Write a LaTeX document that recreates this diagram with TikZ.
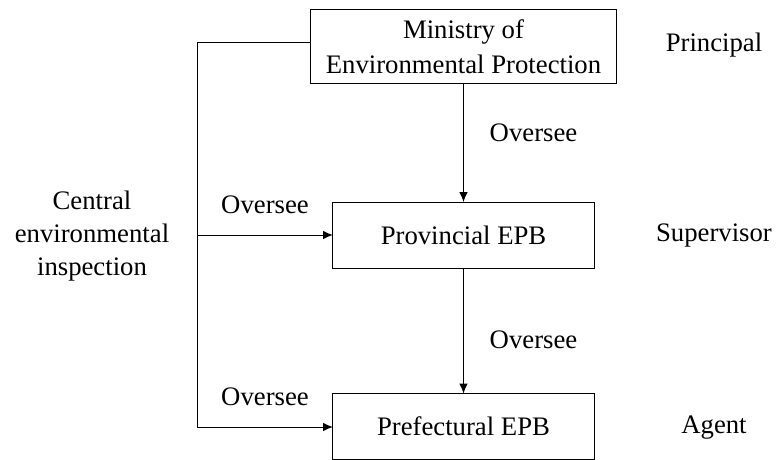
\documentclass[tikz,border=0pt]{standalone}
\usepackage{fontspec}
\setmainfont{Liberation Serif}
\usetikzlibrary{arrows.meta}

\begin{document}
\begin{tikzpicture}[x=0.025cm,y=-0.025cm,inner sep=0pt,outer sep=0pt,line width=0.7pt,
font=\fontsize{19}{25}\selectfont,
orgbox/.style={draw,rectangle,align=center,minimum width=6.525cm,minimum height=1.65cm,line width=0.7pt},
lbl/.style={align=center},
>={Latex[length=7pt,width=6pt]}]
\useasboundingbox (0,0) rectangle (776,460);

\draw (463.5,46.5) node[orgbox,minimum width=7.625cm,minimum height=1.825cm] (MEP) {Ministry of\\Environmental Protection};
\draw (463.5,235) node[orgbox] (ProvEPB) {Provincial EPB};
\draw (463.5,426.5) node[orgbox] (PrefEPB) {Prefectural EPB};

\draw (714,45) node[lbl] (principal) {Principal};
\draw (714,235) node[lbl] (supervisor) {Supervisor};
\draw (714,428) node[lbl] (agent) {Agent};
\draw (92,236) node[lbl,font=\fontsize{19}{23.5}\selectfont] (cei) {Central\\environmental\\inspection};

\coordinate (ctop) at (197,42);
\coordinate (cbot) at (197,427);

\draw[->] (MEP.south) -- (ProvEPB.north);
\draw[->] (ProvEPB.south) -- (PrefEPB.north);
\draw[->] (MEP.west |- ctop) -- (ctop) -- (cbot) -- (PrefEPB.west |- cbot);
\draw[->] (ctop |- ProvEPB.west) -- (ProvEPB.west);

\draw (533.5,133) node[lbl] (ov1) {Oversee};
\draw (533.5,340) node[lbl] (ov2) {Oversee};
\draw (265,205) node[lbl] (ov3) {Oversee};
\draw (265,397) node[lbl] (ov4) {Oversee};

\end{tikzpicture}
\end{document}
